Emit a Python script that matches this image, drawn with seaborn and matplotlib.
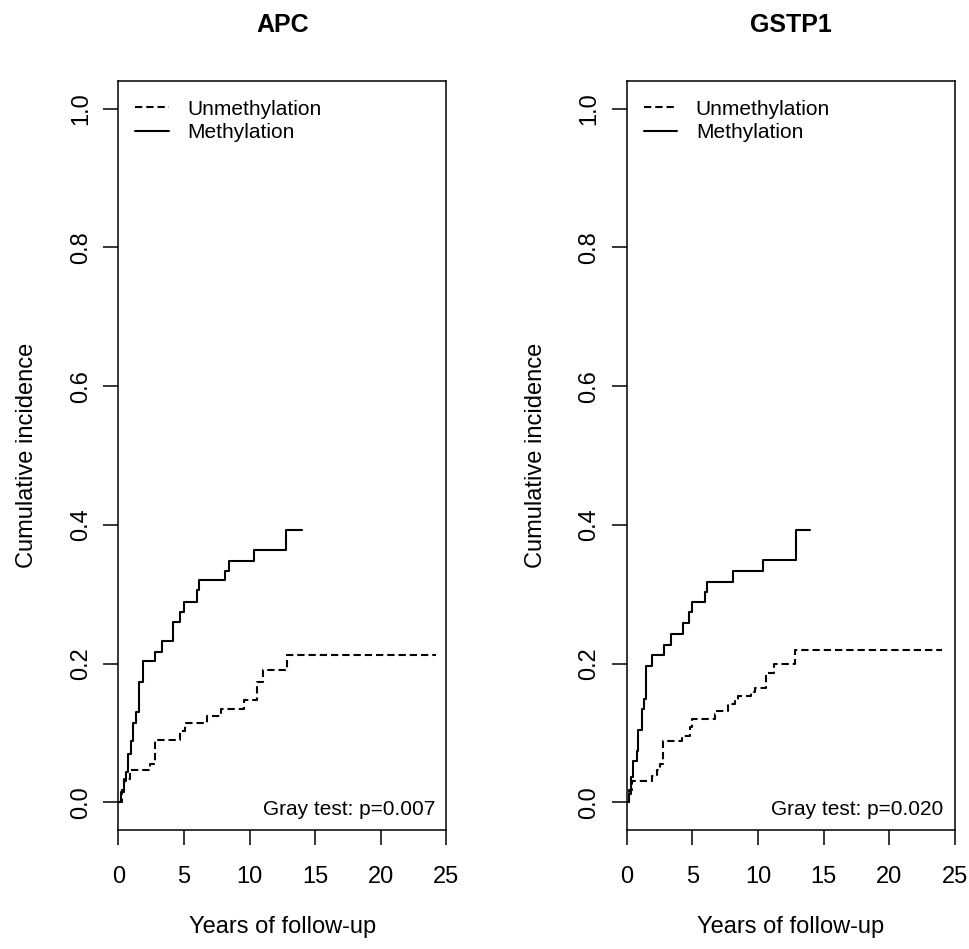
import pandas as pd
import matplotlib
matplotlib.use("Agg")
import matplotlib.pyplot as plt
import seaborn as sns

# Cumulative incidence curves (step-post)
apc_meth_t = [0, 0.2, 0.4, 0.55, 0.75, 0.95, 1.15, 1.35, 1.55, 1.9, 2.8, 3.3, 4.15, 4.7, 5.0, 6.0, 6.15, 8.1, 8.4, 10.35, 12.8, 14.0]
apc_meth_v = [0, 0.015, 0.031, 0.043, 0.069, 0.089, 0.115, 0.130, 0.173, 0.203, 0.216, 0.232, 0.260, 0.275, 0.289, 0.306, 0.320, 0.333, 0.348, 0.364, 0.392, 0.392]
apc_unmeth_t = [0, 0.25, 0.45, 0.9, 2.4, 2.8, 4.7, 5.1, 6.75, 7.8, 9.6, 10.55, 11.05, 12.85, 24.2]
apc_unmeth_v = [0, 0.017, 0.033, 0.046, 0.055, 0.090, 0.103, 0.114, 0.124, 0.135, 0.147, 0.173, 0.190, 0.212, 0.212]

gstp1_meth_t = [0, 0.15, 0.3, 0.45, 0.76, 0.89, 1.14, 1.3, 1.5, 1.95, 2.87, 3.37, 4.26, 4.74, 4.95, 6.0, 6.14, 8.07, 10.36, 12.87, 13.96]
gstp1_meth_v = [0, 0.012, 0.036, 0.059, 0.074, 0.104, 0.134, 0.149, 0.197, 0.212, 0.227, 0.243, 0.258, 0.274, 0.289, 0.303, 0.318, 0.334, 0.350, 0.392, 0.392]
gstp1_unmeth_t = [0, 0.2, 0.4, 1.9, 2.3, 2.55, 2.8, 4.2, 4.8, 4.95, 6.7, 6.85, 7.75, 8.25, 8.5, 9.5, 9.8, 10.6, 11.2, 12.8, 24.0]
gstp1_unmeth_v = [0, 0.017, 0.031, 0.038, 0.046, 0.055, 0.088, 0.096, 0.108, 0.120, 0.127, 0.131, 0.141, 0.147, 0.153, 0.159, 0.165, 0.186, 0.200, 0.219, 0.219]

genes = ["APC", "GSTP1"]
p_values = ["0.007", "0.020"]
groups = ["Unmethylation", "Methylation"]

rows = []
for gene, grp, ts, vs in [
    ("APC", "Methylation", apc_meth_t, apc_meth_v),
    ("APC", "Unmethylation", apc_unmeth_t, apc_unmeth_v),
    ("GSTP1", "Methylation", gstp1_meth_t, gstp1_meth_v),
    ("GSTP1", "Unmethylation", gstp1_unmeth_t, gstp1_unmeth_v),
]:
    for t, v in zip(ts, vs):
        rows.append({"gene": gene, "group": grp, "time": t, "cif": v})
df = pd.DataFrame(rows)

sns.set_style("ticks")
plt.rcParams["font.family"] = ["Liberation Sans", "DejaVu Sans"]
plt.rcParams["text.color"] = "black"
plt.rcParams["axes.labelcolor"] = "black"
plt.rcParams["xtick.color"] = "black"
plt.rcParams["ytick.color"] = "black"

fig = plt.figure(figsize=(9.69, 9.49), dpi=100)
lefts = [118.3 / 969, 626.7 / 969]

for gene, pval, left in zip(genes, p_values, lefts):
    ax = fig.add_axes([left, 1 - 830 / 949, 328 / 969, 749 / 949])
    sub = df[df["gene"] == gene]
    sns.lineplot(data=sub, x="time", y="cif", style="group", style_order=groups,
                 dashes={"Unmethylation": (3.5, 1.9), "Methylation": ""},
                 color="black", lw=1.5, drawstyle="steps-post",
                 estimator=None, sort=False, ax=ax)

    ax.set_xlim(0, 25)
    ax.set_ylim(-0.04, 1.04)
    ax.set_xticks([0, 5, 10, 15, 20, 25])
    ax.set_yticks([0.0, 0.2, 0.4, 0.6, 0.8, 1.0])
    ax.set_yticklabels(["0.0", "0.2", "0.4", "0.6", "0.8", "1.0"], rotation=90, va="center")
    ax.tick_params(axis="x", direction="out", length=10.8, width=1.1, pad=15, labelsize=17)
    ax.tick_params(axis="y", direction="out", length=10.8, width=1.1, pad=8, labelsize=17)
    for sp in ax.spines.values():
        sp.set_visible(True)
        sp.set_color("black")
        sp.set_linewidth(1.1)

    ax.set_title(gene, fontsize=18, fontweight="bold", pad=35)
    ax.set_xlabel("Years of follow-up", fontsize=17)
    ax.set_ylabel("Cumulative incidence", fontsize=17)
    ax.xaxis.set_label_coords(0.5, -0.1153)
    ax.yaxis.set_label_coords(-0.244, 0.5)

    ax.text(24.15, -0.019, "Gray test: p=" + pval, ha="right", va="baseline", fontsize=15)

    handles, labels = ax.get_legend_handles_labels()
    ax.legend(handles, labels, loc="upper left", bbox_to_anchor=(0.052, 0.975),
              frameon=False, fontsize=15, borderpad=0, borderaxespad=0,
              handlelength=1.6, handletextpad=0.9, labelspacing=0.2)

fig.savefig("out.png", dpi=100)
